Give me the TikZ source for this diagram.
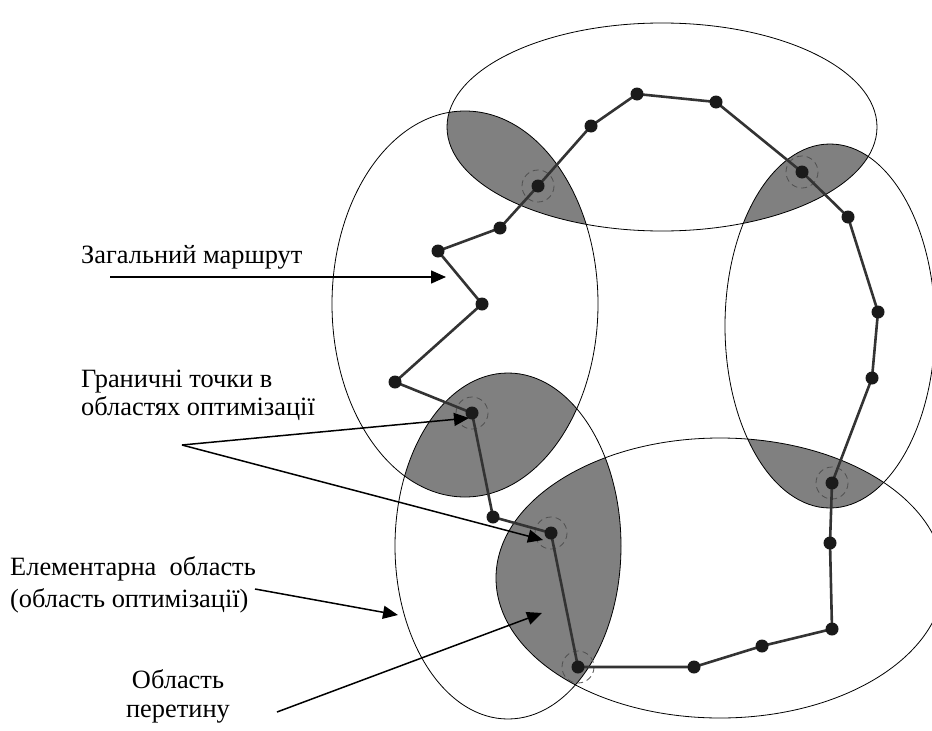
\documentclass[tikz,border=0pt]{standalone}
\usepackage{fontspec}
\setmainfont{Liberation Serif}
\usetikzlibrary{arrows.meta}

\definecolor{lensgray}{RGB}{128,128,128}
\definecolor{routegray}{RGB}{51,51,51}
\definecolor{dotgray}{RGB}{26,26,26}
\definecolor{ringgray}{RGB}{80,80,80}

% optimisation zones (ellipses)
\newcommand{\zoneTop}{(662,127) ellipse [x radius=215,y radius=104]}
\newcommand{\zoneLeft}{(465,304) ellipse [x radius=133,y radius=193]}
\newcommand{\zoneRight}{(830,326) ellipse [x radius=105,y radius=182]}
\newcommand{\zoneLowL}{(508,546) ellipse [x radius=113,y radius=173]}
\newcommand{\zoneLowR}{(720,578) ellipse [x radius=224,y radius=140]}

\begin{document}
\begin{tikzpicture}
[x=1pt,y=-1pt,%
  >={Triangle[length=15pt,width=13pt]},%
  zone/.style={draw,line width=0.8pt},%
  route/.style={draw=routegray,line width=2.6pt,line join=round},%
  ring/.style={draw=ringgray,dash pattern=on 6pt off 4pt,line width=0.8pt},%
  pointer/.style={->,line width=1.5pt},%
  lbl/.style={inner sep=0pt,font=\fontsize{26.4}{29}\selectfont}]
\useasboundingbox (0,0) rectangle (932,731);

% intersection areas
\begin{scope}\clip \zoneTop; \fill[lensgray] \zoneLeft; \end{scope}
\begin{scope}\clip \zoneTop; \fill[lensgray] \zoneRight; \end{scope}
\begin{scope}\clip \zoneLeft; \fill[lensgray] \zoneLowL; \end{scope}
\begin{scope}\clip \zoneLowL; \fill[lensgray] \zoneLowR; \end{scope}
\begin{scope}\clip \zoneRight; \fill[lensgray] \zoneLowR; \end{scope}

\draw[zone] \zoneTop;
\draw[zone] \zoneLeft;
\draw[zone] \zoneRight;
\draw[zone] \zoneLowL;
\draw[zone] \zoneLowR;

% route points
\foreach \i/\x/\y in {1/395/382, 2/472/413, 3/493/517, 4/551/533,
  5/578/667, 6/694/667, 7/762/646, 8/832/629, 9/830/543, 10/832/483,
  11/872/378, 12/878/312, 13/848/217, 14/802/172, 15/716/102,
  16/637/94, 17/591/126, 18/538/186, 19/500/228, 20/438/251, 21/482/304}
  \coordinate (p\i) at (\x,\y);

% boundary points
\foreach \i in {2,4,5,10,14,18}
  \draw[ring] (p\i) circle (16);

\draw[route] (p1) -- (p2) -- (p3) -- (p4) -- (p5) -- (p6) -- (p7)
  -- (p8) -- (p9) -- (p10) -- (p11) -- (p12) -- (p13) -- (p14)
  -- (p15) -- (p16) -- (p17) -- (p18) -- (p19) -- (p20) -- (p21) -- cycle;
\foreach \i in {1,...,21}
  \fill[dotgray] (p\i) circle (6.5);

% labels (base = baseline of the last line)
\node[lbl,anchor=base west] (zag) at (81,263) {Загальний маршрут};
\node[lbl,anchor=base west,align=left,font=\fontsize{26.4}{28}\selectfont]
  (gran) at (81,415) {Граничні точки в\\областях оптимізації};
\node[lbl,anchor=base west,align=left,font=\fontsize{26.4}{32}\selectfont]
  (elem) at (10,607) {Елементарна\ \ область\\(область оптимізації)};
\node[lbl,anchor=base,align=center] (per) at (178,717) {Область\\перетину};

% pointers
\coordinate (zagTail) at (110,277);
\coordinate (zagTip) at (446,277);
\coordinate (granTail) at (182,445);
\coordinate (granTipA) at (469,418);
\coordinate (granTipB) at (543,540);
\coordinate (elemTail) at (255,589);
\coordinate (elemTip) at (398,615);
\coordinate (perTail) at (277,712);
\coordinate (perTip) at (542,613);

\draw[pointer] (zagTail) -- (zagTip);
\draw[pointer] (granTail) -- (granTipA);
\draw[pointer] (granTail) -- (granTipB);
\draw[pointer] (elemTail) -- (elemTip);
\draw[pointer] (perTail) -- (perTip);
\end{tikzpicture}
\end{document}
